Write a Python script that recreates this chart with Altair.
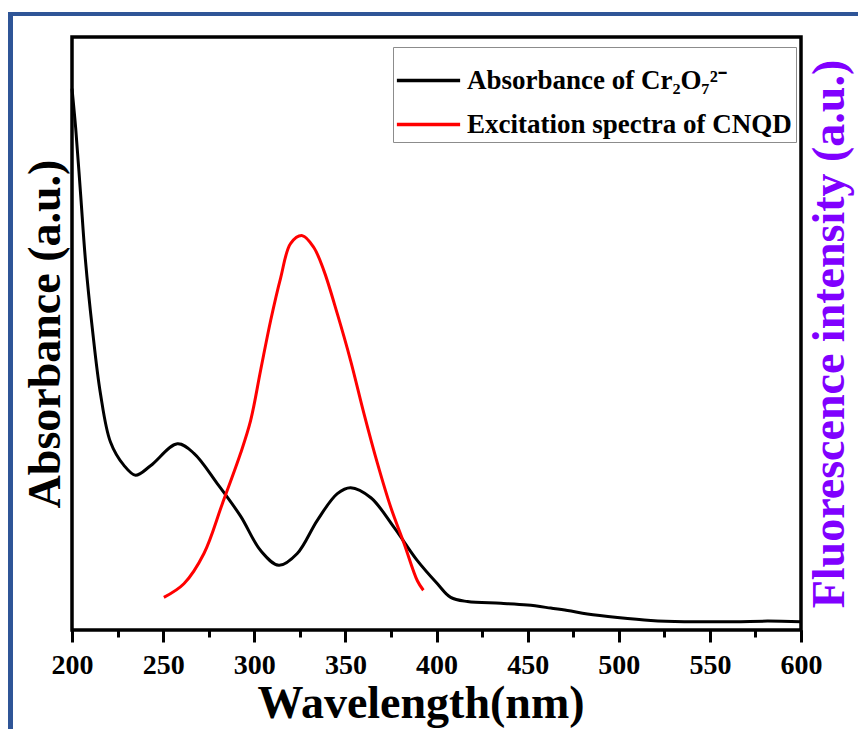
import altair as alt
import pandas as pd

# ---- data ----
black_wl = [200, 202, 204.7, 207.4, 211.1, 215.6, 221.1, 228.4, 234.9, 243.1, 257.8,
            266.9, 279.7, 292.5, 303.5, 313.5, 323.6, 334.6, 345.6, 352.9, 364.0,
            376.7, 389.5, 400.5, 407.8, 417.0, 435.3, 449.9, 462.7, 471.9, 482.8,
            499.3, 517.6, 535.9, 563.3, 581.7, 600]
black_abs = [0.913, 0.847, 0.736, 0.623, 0.510, 0.399, 0.317, 0.278, 0.261, 0.277, 0.314,
             0.298, 0.247, 0.192, 0.134, 0.109, 0.129, 0.185, 0.230, 0.240, 0.223,
             0.173, 0.117, 0.078, 0.055, 0.048, 0.045, 0.042, 0.037, 0.033, 0.027,
             0.021, 0.016, 0.014, 0.014, 0.015, 0.014]

red_wl = [250.4, 261.4, 272.4, 282.5, 292.5, 298.0, 303.5, 309.0, 314.5, 320.0, 326.4,
          332.7, 338.2, 345.6, 352.9, 360.2, 367.6, 374.9, 382.2, 389.5, 392.8]
red_int = [0.055, 0.078, 0.129, 0.213, 0.298, 0.353, 0.438, 0.522, 0.594, 0.652, 0.665,
           0.645, 0.606, 0.533, 0.454, 0.365, 0.281, 0.207, 0.146, 0.083, 0.067]

series_names = ["Absorbance of Cr₂O₇²⁻", "Excitation spectra of CNQD"]
series_colors = ["#000000", "#ff0000"]
major_ticks = [200, 250, 300, 350, 400, 450, 500, 550, 600]
minor_ticks = [200, 225, 250, 275, 300, 325, 350, 375, 400, 425, 450, 475, 500, 525, 550, 575, 600]

df_black = pd.DataFrame({"wl": black_wl, "val": black_abs, "series": series_names[0]})
df_red = pd.DataFrame({"wl": red_wl, "val": red_int, "series": series_names[1]})

FONT = "Liberation Serif"
PURPLE = "#8000ff"
BLUE = "#2f5597"

color = alt.Color(
    "series:N",
    scale=alt.Scale(domain=series_names, range=series_colors),
    legend=alt.Legend(
        orient="none", legendX=321, legendY=10,
        title=" ", titleFontSize=10, titlePadding=6,
        symbolType="M-2.75,0H2.75", symbolSize=529, symbolStrokeWidth=3.5,
        symbolOffset=18, labelOffset=25,
        labelFont=FONT, labelFontSize=27, labelFontWeight="bold", labelColor="black",
        labelLimit=500, rowPadding=16, padding=4,
        strokeColor="#8c8c8c", fillColor="white",
    ),
)

xscale = alt.Scale(domain=[200, 600], nice=False, zero=False)

black = alt.Chart(df_black).mark_line(strokeWidth=3, interpolate="catmull-rom").encode(
    x=alt.X("wl:Q", scale=xscale, axis=alt.Axis(
        orient="bottom", values=major_ticks, tickSize=12, tickWidth=3, tickColor="black",
        domain=False, grid=False,
        labelFont=FONT, labelFontSize=28, labelFontWeight="bold", labelColor="black",
        labelPadding=9, labelFlush=False,
        title="Wavelength(nm)", titleFont=FONT, titleFontSize=46, titleFontWeight="bold",
        titleColor="black", titleX=348.5, titleY=87, titleAlign="center",
        titleBaseline="alphabetic")),
    y=alt.Y("val:Q", scale=alt.Scale(domain=[0, 1], nice=False), axis=alt.Axis(
        labels=False, ticks=False, domain=False, grid=False,
        title="Absorbance (a.u.)", titleFont=FONT, titleFontSize=46, titleFontWeight="bold",
        titleColor="black", titleAngle=270, titleX=-27, titleY=296.5,
        titleAlign="center", titleBaseline="middle")),
    color=color,
)

red = alt.Chart(df_red).mark_line(strokeWidth=3, interpolate="catmull-rom").encode(
    x=alt.X("wl:Q", scale=xscale, axis=alt.Axis(
        orient="bottom", values=minor_ticks, tickSize=7, tickWidth=3, tickColor="black",
        labels=False, domain=False, grid=False, title=None)),
    y=alt.Y("val:Q", scale=alt.Scale(domain=[0, 1], nice=False), axis=alt.Axis(
        orient="right", labels=False, ticks=False, domain=False, grid=False,
        title="Fluorescence intensity (a.u.)", titleFont=FONT, titleFontSize=46,
        titleFontWeight="bold", titleColor=PURPLE, titleAngle=270,
        titleX=28, titleY=296.5, titleAlign="center", titleBaseline="middle")),
    color=color,
)

frame_df = pd.DataFrame({"k": [0]})
left_bar = alt.Chart(frame_df).mark_rule(color=BLUE, strokeWidth=5).encode(
    x=alt.value(-61.5), y=alt.value(-25), y2=alt.value(700))
top_bar = alt.Chart(frame_df).mark_rule(color=BLUE, strokeWidth=4).encode(
    x=alt.value(-64), x2=alt.value(800), y=alt.value(-23))

chart = alt.layer(left_bar, top_bar, black, red).resolve_scale(
    y="independent"
).resolve_axis(
    x="independent"
).properties(
    width=729, height=593,
    padding={"left": 72, "top": 37, "right": 57, "bottom": 99},
    autosize="none", background="white",
).configure_view(stroke="black", strokeWidth=3.5)

chart.save("out.html", embed_options={"renderer": "svg", "actions": False})
